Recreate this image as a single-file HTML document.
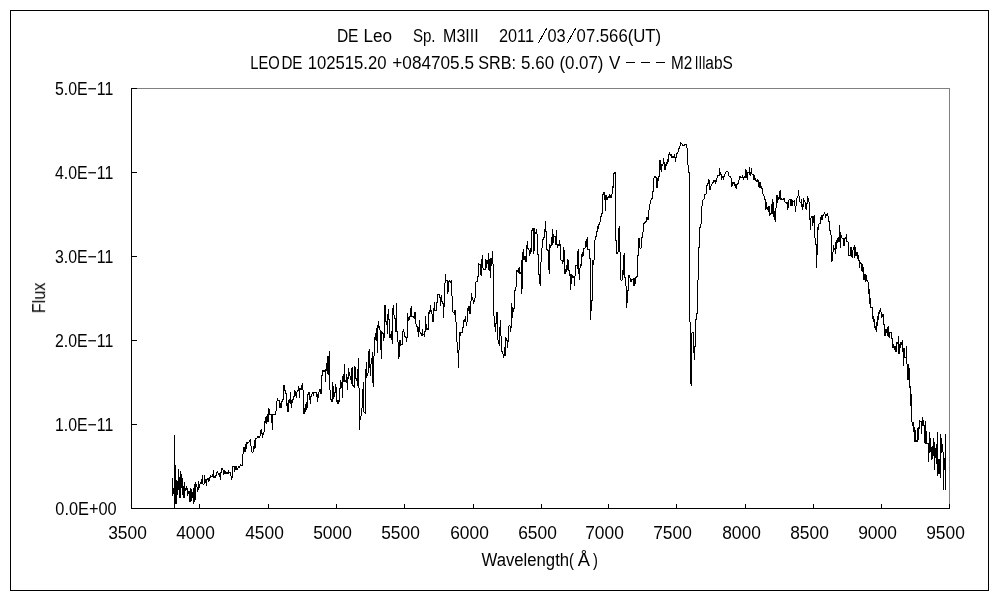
<!DOCTYPE html>
<html><head><meta charset="utf-8"><title>DE Leo spectrum</title>
<style>html,body{margin:0;padding:0;background:#fff;width:1000px;height:600px;overflow:hidden}svg{display:block}</style>
</head><body>
<svg width="1000" height="600" viewBox="0 0 1000 600">
<rect x="0" y="0" width="1000" height="600" fill="#fff"/>
<g shape-rendering="crispEdges" fill="none" stroke-width="1">
<rect x="10.5" y="10.5" width="978" height="580" stroke="#000"/>
<path d="M131.5 88.5H949.5V508.5" stroke="#808080"/>
<path d="M131.5 88V509M131 508.5H950" stroke="#000"/>
<path d="M131 508.5H137M131 424.5H137M131 340.5H137M131 256.5H137M131 172.5H137M131 88.5H137M131.5 509V504M199.5 509V504M268.5 509V504M336.5 509V504M404.5 509V504M473.5 509V504M541.5 509V504M608.5 509V504M676.5 509V504M745.5 509V504M813.5 509V504M881.5 509V504M949.5 509V504" stroke="#000"/>
</g>
<path d="M172 478h1v18h-1zM173 488h1v6h-1zM174 435h1v73h-1zM175 465h1v39h-1zM176 480h1v24h-1zM177 481h1v14h-1zM178 469h1v21h-1zM179 477h1v21h-1zM180 471h1v27h-1zM181 474h1v14h-1zM182 478h1v17h-1zM183 486h1v12h-1zM184 482h1v16h-1zM185 488h1v3h-1zM186 486h1v4h-1zM187 488h1v8h-1zM188 491h1v3h-1zM189 491h1v11h-1zM190 488h1v14h-1zM191 489h1v12h-1zM192 492h1v6h-1zM193 488h1v16h-1zM194 484h1v18h-1zM195 482h1v18h-1zM196 484h1v3h-1zM197 487h1v5h-1zM198 481h1v9h-1zM199 484h1v4h-1zM200 482h1v2h-1zM201 479h1v5h-1zM202 475h1v9h-1zM203 484h1v1h-1zM204 475h1v9h-1zM205 479h1v4h-1zM206 479h1v7h-1zM207 478h1v2h-1zM208 478h1v4h-1zM209 477h1v4h-1zM210 475h1v3h-1zM211 476h1v1h-1zM212 474h1v3h-1zM213 470h1v8h-1zM214 476h1v2h-1zM215 475h1v3h-1zM216 472h1v4h-1zM217 471h1v2h-1zM218 473h1v2h-1zM219 473h1v4h-1zM220 472h1v8h-1zM221 468h1v5h-1zM222 468h1v2h-1zM223 470h1v5h-1zM224 470h1v4h-1zM225 471h1v3h-1zM226 472h1v2h-1zM227 472h1v2h-1zM228 470h1v4h-1zM229 472h1v1h-1zM230 472h1v4h-1zM231 476h1v4h-1zM232 466h1v12h-1zM233 466h1v1h-1zM234 466h1v6h-1zM235 466h1v4h-1zM236 466h1v4h-1zM237 468h1v2h-1zM238 466h1v2h-1zM239 466h1v2h-1zM240 464h1v2h-1zM241 465h1v1h-1zM242 454h1v12h-1zM243 447h1v7h-1zM244 447h1v5h-1zM245 444h1v8h-1zM246 442h1v7h-1zM247 442h1v2h-1zM248 442h1v1h-1zM249 440h1v2h-1zM250 439h1v7h-1zM251 446h1v6h-1zM252 452h1v1h-1zM253 446h1v6h-1zM254 440h1v9h-1zM255 438h1v10h-1zM256 438h1v1h-1zM257 436h1v2h-1zM258 436h1v2h-1zM259 436h1v2h-1zM260 430h1v6h-1zM261 429h1v5h-1zM262 433h1v5h-1zM263 432h1v3h-1zM264 421h1v11h-1zM265 417h1v6h-1zM266 416h1v8h-1zM267 414h1v8h-1zM268 408h1v14h-1zM269 409h1v6h-1zM270 414h1v1h-1zM271 414h1v9h-1zM272 414h1v16h-1zM273 414h1v1h-1zM274 414h1v1h-1zM275 411h1v4h-1zM276 401h1v10h-1zM277 398h1v3h-1zM278 400h1v1h-1zM279 400h1v8h-1zM280 403h1v5h-1zM281 401h1v7h-1zM282 399h1v3h-1zM283 385h1v15h-1zM284 385h1v6h-1zM285 390h1v4h-1zM286 393h1v13h-1zM287 403h1v9h-1zM288 400h1v12h-1zM289 399h1v4h-1zM290 392h1v12h-1zM291 400h1v8h-1zM292 399h1v4h-1zM293 396h1v4h-1zM294 390h1v7h-1zM295 391h1v5h-1zM296 392h1v6h-1zM297 390h1v2h-1zM298 386h1v5h-1zM299 388h1v10h-1zM300 388h1v2h-1zM301 385h1v5h-1zM302 383h1v7h-1zM303 390h1v24h-1zM304 408h1v6h-1zM305 404h1v8h-1zM306 402h1v8h-1zM307 394h1v14h-1zM308 392h1v3h-1zM309 392h1v8h-1zM310 396h1v8h-1zM311 394h1v3h-1zM312 392h1v2h-1zM313 392h1v4h-1zM314 392h1v1h-1zM315 392h1v1h-1zM316 392h1v5h-1zM317 394h1v8h-1zM318 392h1v6h-1zM319 389h1v3h-1zM320 389h1v5h-1zM321 375h1v19h-1zM322 370h1v6h-1zM323 370h1v2h-1zM324 370h1v2h-1zM325 369h1v13h-1zM326 363h1v8h-1zM327 356h1v18h-1zM328 356h1v19h-1zM329 351h1v39h-1zM330 390h1v10h-1zM331 399h1v3h-1zM332 382h1v20h-1zM333 386h1v13h-1zM334 392h1v5h-1zM335 384h1v9h-1zM336 387h1v15h-1zM337 400h1v4h-1zM338 400h1v4h-1zM339 388h1v14h-1zM340 380h1v9h-1zM341 382h1v6h-1zM342 376h1v22h-1zM343 374h1v8h-1zM344 364h1v18h-1zM345 380h1v2h-1zM346 374h1v9h-1zM347 377h1v13h-1zM348 368h1v11h-1zM349 372h1v4h-1zM350 376h1v4h-1zM351 368h1v16h-1zM352 367h1v19h-1zM353 385h1v2h-1zM354 366h1v22h-1zM355 367h1v12h-1zM356 378h1v3h-1zM357 369h1v17h-1zM358 358h1v30h-1zM359 388h1v42h-1zM360 416h1v4h-1zM361 408h1v8h-1zM362 389h1v19h-1zM363 382h1v30h-1zM364 412h1v1h-1zM365 369h1v45h-1zM366 362h1v16h-1zM367 373h1v3h-1zM368 351h1v22h-1zM369 349h1v19h-1zM370 364h1v12h-1zM371 358h1v6h-1zM372 352h1v31h-1zM373 356h1v31h-1zM374 337h1v19h-1zM375 333h1v7h-1zM376 328h1v13h-1zM377 325h1v28h-1zM378 321h1v7h-1zM379 326h1v4h-1zM380 330h1v20h-1zM381 331h1v28h-1zM382 332h1v2h-1zM383 333h1v8h-1zM384 305h1v33h-1zM385 305h1v17h-1zM386 321h1v4h-1zM387 314h1v20h-1zM388 309h1v11h-1zM389 319h1v19h-1zM390 334h1v4h-1zM391 331h1v9h-1zM392 308h1v36h-1zM393 305h1v10h-1zM394 315h1v4h-1zM395 318h1v14h-1zM396 303h1v29h-1zM397 331h1v11h-1zM398 342h1v17h-1zM399 340h1v17h-1zM400 340h1v6h-1zM401 344h1v1h-1zM402 331h1v14h-1zM403 329h1v3h-1zM404 332h1v5h-1zM405 336h1v2h-1zM406 337h1v5h-1zM407 313h1v25h-1zM408 317h1v4h-1zM409 316h1v4h-1zM410 308h1v9h-1zM411 306h1v11h-1zM412 316h1v1h-1zM413 316h1v2h-1zM414 312h1v7h-1zM415 312h1v12h-1zM416 324h1v3h-1zM417 326h1v6h-1zM418 327h1v10h-1zM419 320h1v12h-1zM420 332h1v2h-1zM421 333h1v3h-1zM422 329h1v7h-1zM423 334h1v1h-1zM424 331h1v6h-1zM425 316h1v16h-1zM426 324h1v6h-1zM427 328h1v2h-1zM428 312h1v18h-1zM429 310h1v4h-1zM430 305h1v7h-1zM431 310h1v4h-1zM432 314h1v8h-1zM433 308h1v14h-1zM434 302h1v9h-1zM435 310h1v1h-1zM436 302h1v9h-1zM437 294h1v9h-1zM438 294h1v1h-1zM439 294h1v4h-1zM440 297h1v9h-1zM441 295h1v7h-1zM442 301h1v3h-1zM443 303h1v15h-1zM444 283h1v24h-1zM445 274h1v9h-1zM446 280h1v1h-1zM447 280h1v14h-1zM448 281h1v11h-1zM449 280h1v2h-1zM450 281h1v2h-1zM451 280h1v16h-1zM452 296h1v16h-1zM453 312h1v1h-1zM454 310h1v5h-1zM455 310h1v12h-1zM456 322h1v20h-1zM457 342h1v11h-1zM458 350h1v18h-1zM459 332h1v18h-1zM460 332h1v4h-1zM461 332h1v1h-1zM462 327h1v6h-1zM463 320h1v8h-1zM464 319h1v3h-1zM465 316h1v6h-1zM466 322h1v4h-1zM467 308h1v14h-1zM468 306h1v5h-1zM469 306h1v8h-1zM470 301h1v13h-1zM471 293h1v8h-1zM472 297h1v3h-1zM473 300h1v4h-1zM474 298h1v4h-1zM475 282h1v16h-1zM476 281h1v1h-1zM477 276h1v6h-1zM478 263h1v14h-1zM479 264h1v1h-1zM480 264h1v11h-1zM481 259h1v17h-1zM482 255h1v13h-1zM483 268h1v2h-1zM484 269h1v1h-1zM485 259h1v11h-1zM486 260h1v8h-1zM487 260h1v4h-1zM488 253h1v17h-1zM489 259h1v12h-1zM490 258h1v20h-1zM491 258h1v8h-1zM492 251h1v13h-1zM493 264h1v52h-1zM494 316h1v11h-1zM495 323h1v9h-1zM496 312h1v12h-1zM497 312h1v28h-1zM498 340h1v4h-1zM499 327h1v19h-1zM500 320h1v16h-1zM501 336h1v16h-1zM502 351h1v3h-1zM503 354h1v4h-1zM504 347h1v9h-1zM505 337h1v19h-1zM506 338h1v3h-1zM507 340h1v8h-1zM508 326h1v16h-1zM509 325h1v1h-1zM510 326h1v6h-1zM511 303h1v25h-1zM512 307h1v11h-1zM513 308h1v4h-1zM514 290h1v19h-1zM515 287h1v4h-1zM516 270h1v17h-1zM517 270h1v2h-1zM518 268h1v5h-1zM519 267h1v7h-1zM520 272h1v2h-1zM521 260h1v34h-1zM522 252h1v37h-1zM523 249h1v11h-1zM524 256h1v4h-1zM525 256h1v6h-1zM526 245h1v17h-1zM527 241h1v8h-1zM528 248h1v2h-1zM529 250h1v6h-1zM530 248h1v6h-1zM531 230h1v22h-1zM532 228h1v3h-1zM533 228h1v26h-1zM534 228h1v23h-1zM535 232h1v2h-1zM536 229h1v5h-1zM537 234h1v21h-1zM538 254h1v21h-1zM539 274h1v10h-1zM540 262h1v24h-1zM541 248h1v14h-1zM542 239h1v9h-1zM543 237h1v3h-1zM544 229h1v9h-1zM545 221h1v11h-1zM546 231h1v19h-1zM547 249h1v2h-1zM548 250h1v20h-1zM549 244h1v30h-1zM550 245h1v3h-1zM551 237h1v9h-1zM552 229h1v16h-1zM553 234h1v9h-1zM554 236h1v1h-1zM555 236h1v9h-1zM556 230h1v15h-1zM557 244h1v4h-1zM558 244h1v2h-1zM559 240h1v6h-1zM560 244h1v16h-1zM561 260h1v1h-1zM562 260h1v4h-1zM563 247h1v15h-1zM564 250h1v24h-1zM565 269h1v5h-1zM566 265h1v7h-1zM567 259h1v11h-1zM568 260h1v11h-1zM569 270h1v6h-1zM570 274h1v16h-1zM571 274h1v10h-1zM572 275h1v3h-1zM573 276h1v2h-1zM574 276h1v10h-1zM575 265h1v11h-1zM576 265h1v1h-1zM577 251h1v18h-1zM578 249h1v25h-1zM579 268h1v12h-1zM580 264h1v4h-1zM581 254h1v12h-1zM582 252h1v5h-1zM583 248h1v8h-1zM584 248h1v1h-1zM585 241h1v7h-1zM586 239h1v8h-1zM587 237h1v13h-1zM588 249h1v1h-1zM589 249h1v10h-1zM590 258h1v62h-1zM591 300h1v11h-1zM592 260h1v41h-1zM593 260h1v5h-1zM594 240h1v20h-1zM595 236h1v4h-1zM596 231h1v6h-1zM597 226h1v6h-1zM598 224h1v5h-1zM599 222h1v3h-1zM600 216h1v6h-1zM601 213h1v4h-1zM602 194h1v20h-1zM603 192h1v3h-1zM604 192h1v8h-1zM605 195h1v16h-1zM606 195h1v5h-1zM607 197h1v3h-1zM608 196h1v2h-1zM609 194h1v4h-1zM610 195h1v3h-1zM611 194h1v4h-1zM612 186h1v8h-1zM613 173h1v15h-1zM614 172h1v2h-1zM615 172h1v69h-1zM616 240h1v14h-1zM617 252h1v2h-1zM618 228h1v24h-1zM619 226h1v26h-1zM620 252h1v28h-1zM621 280h1v1h-1zM622 270h1v10h-1zM623 255h1v20h-1zM624 253h1v25h-1zM625 277h1v9h-1zM626 286h1v22h-1zM627 290h1v13h-1zM628 275h1v16h-1zM629 275h1v3h-1zM630 278h1v4h-1zM631 279h1v3h-1zM632 279h1v1h-1zM633 278h1v8h-1zM634 278h1v8h-1zM635 277h1v7h-1zM636 276h1v2h-1zM637 255h1v22h-1zM638 238h1v18h-1zM639 238h1v10h-1zM640 248h1v1h-1zM641 237h1v11h-1zM642 232h1v6h-1zM643 223h1v9h-1zM644 222h1v2h-1zM645 221h1v2h-1zM646 217h1v5h-1zM647 217h1v3h-1zM648 210h1v10h-1zM649 204h1v6h-1zM650 200h1v4h-1zM651 198h1v2h-1zM652 191h1v8h-1zM653 178h1v14h-1zM654 176h1v2h-1zM655 176h1v2h-1zM656 177h1v11h-1zM657 178h1v10h-1zM658 176h1v5h-1zM659 160h1v17h-1zM660 160h1v10h-1zM661 164h1v8h-1zM662 164h1v2h-1zM663 158h1v6h-1zM664 162h1v8h-1zM665 164h1v6h-1zM666 162h1v4h-1zM667 159h1v5h-1zM668 154h1v8h-1zM669 152h1v3h-1zM670 154h1v2h-1zM671 154h1v4h-1zM672 156h1v2h-1zM673 156h1v2h-1zM674 154h1v4h-1zM675 157h1v5h-1zM676 153h1v5h-1zM677 152h1v2h-1zM678 148h1v4h-1zM679 146h1v3h-1zM680 142h1v4h-1zM681 143h1v1h-1zM682 144h1v2h-1zM683 145h1v1h-1zM684 144h1v2h-1zM685 144h1v1h-1zM686 144h1v4h-1zM687 148h1v17h-1zM688 165h1v8h-1zM689 172h1v150h-1zM690 322h1v62h-1zM691 333h1v53h-1zM692 332h1v1h-1zM693 332h1v21h-1zM694 346h1v14h-1zM695 319h1v28h-1zM696 313h1v7h-1zM697 280h1v34h-1zM698 247h1v33h-1zM699 227h1v21h-1zM700 224h1v4h-1zM701 206h1v18h-1zM702 200h1v6h-1zM703 199h1v1h-1zM704 194h1v5h-1zM705 194h1v1h-1zM706 185h1v9h-1zM707 183h1v3h-1zM708 179h1v5h-1zM709 180h1v10h-1zM710 186h1v4h-1zM711 184h1v2h-1zM712 182h1v2h-1zM713 180h1v3h-1zM714 180h1v2h-1zM715 180h1v4h-1zM716 178h1v4h-1zM717 175h1v3h-1zM718 175h1v1h-1zM719 168h1v8h-1zM720 172h1v3h-1zM721 174h1v6h-1zM722 176h1v2h-1zM723 176h1v4h-1zM724 174h1v3h-1zM725 172h1v2h-1zM726 171h1v1h-1zM727 171h1v1h-1zM728 172h1v4h-1zM729 176h1v1h-1zM730 176h1v2h-1zM731 178h1v9h-1zM732 182h1v4h-1zM733 182h1v2h-1zM734 182h1v4h-1zM735 184h1v4h-1zM736 184h1v5h-1zM737 183h1v2h-1zM738 180h1v4h-1zM739 176h1v4h-1zM740 176h1v2h-1zM741 177h1v1h-1zM742 175h1v3h-1zM743 177h1v3h-1zM744 176h1v2h-1zM745 169h1v9h-1zM746 170h1v8h-1zM747 172h1v8h-1zM748 172h1v1h-1zM749 167h1v8h-1zM750 172h1v4h-1zM751 168h1v6h-1zM752 174h1v1h-1zM753 174h1v6h-1zM754 175h1v5h-1zM755 178h1v3h-1zM756 180h1v2h-1zM757 179h1v3h-1zM758 180h1v7h-1zM759 182h1v6h-1zM760 182h1v6h-1zM761 186h1v3h-1zM762 188h1v6h-1zM763 194h1v2h-1zM764 196h1v4h-1zM765 199h1v11h-1zM766 202h1v7h-1zM767 207h1v3h-1zM768 206h1v6h-1zM769 206h1v10h-1zM770 213h1v2h-1zM771 204h1v10h-1zM772 199h1v15h-1zM773 202h1v15h-1zM774 211h1v9h-1zM775 208h1v14h-1zM776 195h1v13h-1zM777 195h1v8h-1zM778 197h1v3h-1zM779 191h1v8h-1zM780 190h1v10h-1zM781 198h1v2h-1zM782 199h1v1h-1zM783 198h1v2h-1zM784 198h1v4h-1zM785 202h1v1h-1zM786 202h1v2h-1zM787 202h1v8h-1zM788 200h1v8h-1zM789 199h1v1h-1zM790 199h1v7h-1zM791 199h1v7h-1zM792 200h1v6h-1zM793 201h1v1h-1zM794 200h1v6h-1zM795 206h1v6h-1zM796 198h1v8h-1zM797 196h1v2h-1zM798 190h1v6h-1zM799 196h1v6h-1zM800 202h1v1h-1zM801 199h1v8h-1zM802 204h1v6h-1zM803 198h1v9h-1zM804 200h1v2h-1zM805 202h1v7h-1zM806 203h1v7h-1zM807 196h1v8h-1zM808 198h1v4h-1zM809 202h1v18h-1zM810 218h1v12h-1zM811 216h1v2h-1zM812 216h1v10h-1zM813 216h1v7h-1zM814 215h1v23h-1zM815 238h1v7h-1zM816 244h1v24h-1zM817 227h1v28h-1zM818 224h1v6h-1zM819 223h1v1h-1zM820 217h1v7h-1zM821 215h1v5h-1zM822 215h1v5h-1zM823 214h1v2h-1zM824 212h1v2h-1zM825 214h1v4h-1zM826 214h1v2h-1zM827 213h1v3h-1zM828 216h1v6h-1zM829 221h1v10h-1zM830 230h1v5h-1zM831 235h1v27h-1zM832 252h1v9h-1zM833 245h1v7h-1zM834 248h1v2h-1zM835 242h1v12h-1zM836 240h1v9h-1zM837 238h1v5h-1zM838 237h1v5h-1zM839 225h1v17h-1zM840 232h1v16h-1zM841 235h1v3h-1zM842 238h1v1h-1zM843 238h1v8h-1zM844 238h1v8h-1zM845 237h1v2h-1zM846 234h1v8h-1zM847 241h1v1h-1zM848 242h1v14h-1zM849 255h1v1h-1zM850 247h1v9h-1zM851 247h1v10h-1zM852 250h1v8h-1zM853 247h1v3h-1zM854 245h1v13h-1zM855 247h1v9h-1zM856 252h1v4h-1zM857 252h1v7h-1zM858 255h1v6h-1zM859 260h1v8h-1zM860 262h1v2h-1zM861 263h1v8h-1zM862 264h1v8h-1zM863 267h1v13h-1zM864 274h1v6h-1zM865 274h1v8h-1zM866 275h1v6h-1zM867 280h1v2h-1zM868 282h1v12h-1zM869 289h1v15h-1zM870 298h1v10h-1zM871 307h1v1h-1zM872 307h1v12h-1zM873 316h1v6h-1zM874 319h1v9h-1zM875 326h1v4h-1zM876 322h1v10h-1zM877 316h1v10h-1zM878 312h1v8h-1zM879 310h1v4h-1zM880 308h1v4h-1zM881 312h1v6h-1zM882 314h1v3h-1zM883 314h1v11h-1zM884 324h1v12h-1zM885 329h1v7h-1zM886 329h1v4h-1zM887 327h1v9h-1zM888 326h1v11h-1zM889 332h1v6h-1zM890 332h1v1h-1zM891 332h1v7h-1zM892 338h1v10h-1zM893 344h1v4h-1zM894 346h1v4h-1zM895 346h1v6h-1zM896 342h1v10h-1zM897 342h1v2h-1zM898 336h1v18h-1zM899 344h1v10h-1zM900 342h1v6h-1zM901 342h1v3h-1zM902 340h1v12h-1zM903 348h1v18h-1zM904 348h1v10h-1zM905 357h1v1h-1zM906 346h1v18h-1zM907 364h1v16h-1zM908 364h1v16h-1zM909 368h1v20h-1zM910 386h1v20h-1zM911 394h1v28h-1zM912 422h1v4h-1zM913 422h1v10h-1zM914 427h1v15h-1zM915 430h1v12h-1zM916 440h1v2h-1zM917 428h1v14h-1zM918 427h1v13h-1zM919 420h1v9h-1zM920 421h1v1h-1zM921 421h1v13h-1zM922 417h1v9h-1zM923 420h1v6h-1zM924 425h1v18h-1zM925 421h1v23h-1zM926 431h1v13h-1zM927 443h1v1h-1zM928 443h1v19h-1zM929 432h1v21h-1zM930 438h1v14h-1zM931 447h1v13h-1zM932 446h1v13h-1zM933 438h1v18h-1zM934 442h1v28h-1zM935 448h1v10h-1zM936 444h1v20h-1zM937 432h1v44h-1zM938 459h1v15h-1zM939 459h1v15h-1zM940 434h1v44h-1zM941 438h1v15h-1zM942 444h1v8h-1zM943 452h1v38h-1zM944 458h1v12h-1zM945 434h1v56h-1z" fill="#000" stroke="none" shape-rendering="crispEdges"/>
<path d="M626 62h9v1h-9zM641 62h9v1h-9zM656 62h9v1h-9z" fill="#000" shape-rendering="crispEdges"/>
<path d="M538.5 43L546.5 28.5M567.5 43L575.5 28.5" stroke="#000" stroke-width="1" fill="none" shape-rendering="crispEdges"/>
<g style="opacity:0.999" font-family="'Liberation Sans', sans-serif" font-size="18.15" fill="#000">
<text x="336.90000000000003" y="42" textLength="21.6" lengthAdjust="spacingAndGlyphs">DE</text>
<text x="363.40000000000003" y="42" textLength="28.6" lengthAdjust="spacingAndGlyphs">Leo</text>
<text x="412.90000000000003" y="42" textLength="22.6" lengthAdjust="spacingAndGlyphs">Sp.</text>
<text x="443.1" y="42" textLength="35.6" lengthAdjust="spacingAndGlyphs">M3III</text>
<text x="499.0" y="42" textLength="35.0" lengthAdjust="spacingAndGlyphs">2011</text>
<text x="547.5" y="42" textLength="18.2" lengthAdjust="spacingAndGlyphs">03</text>
<text x="576.5999999999999" y="42" textLength="51.1" lengthAdjust="spacingAndGlyphs">07.566</text>
<text x="627.6999999999999" y="42" textLength="33.5" lengthAdjust="spacingAndGlyphs">(UT)</text>
<text x="250.3" y="69" textLength="29.5" lengthAdjust="spacingAndGlyphs">LEO</text>
<text x="281.40000000000003" y="69" textLength="21.1" lengthAdjust="spacingAndGlyphs">DE</text>
<text x="307.7" y="69" textLength="78.8" lengthAdjust="spacingAndGlyphs">102515.20</text>
<text x="392.3" y="69" textLength="81.7" lengthAdjust="spacingAndGlyphs">+084705.5</text>
<text x="478.3" y="69" textLength="37.7" lengthAdjust="spacingAndGlyphs">SRB:</text>
<text x="521.0999999999999" y="69" textLength="33.0" lengthAdjust="spacingAndGlyphs">5.60</text>
<text x="559.4" y="69" textLength="44.1" lengthAdjust="spacingAndGlyphs">(0.07)</text>
<text x="608.9" y="69" textLength="11.4" lengthAdjust="spacingAndGlyphs">V</text>
<text x="670.9" y="69" textLength="21.3" lengthAdjust="spacingAndGlyphs">M2</text>
<text x="694.6999999999999" y="69" textLength="11.1" lengthAdjust="spacingAndGlyphs">III</text>
<text x="705.3" y="69" textLength="27.5" lengthAdjust="spacingAndGlyphs">abS</text>
<text x="54.9" y="431" textLength="58.4" lengthAdjust="spacingAndGlyphs">1.0E&#8722;11</text>
<text x="54.9" y="347" textLength="58.4" lengthAdjust="spacingAndGlyphs">2.0E&#8722;11</text>
<text x="54.9" y="263" textLength="58.4" lengthAdjust="spacingAndGlyphs">3.0E&#8722;11</text>
<text x="54.9" y="179" textLength="58.4" lengthAdjust="spacingAndGlyphs">4.0E&#8722;11</text>
<text x="54.9" y="95" textLength="58.4" lengthAdjust="spacingAndGlyphs">5.0E&#8722;11</text>
<text x="55.3" y="515" textLength="61.4" lengthAdjust="spacingAndGlyphs">0.0E+00</text>
<text x="108.2" y="539" textLength="38.6" lengthAdjust="spacingAndGlyphs">3500</text>
<text x="176.20000000000002" y="539" textLength="38.6" lengthAdjust="spacingAndGlyphs">4000</text>
<text x="245.20000000000002" y="539" textLength="38.6" lengthAdjust="spacingAndGlyphs">4500</text>
<text x="313.2" y="539" textLength="38.6" lengthAdjust="spacingAndGlyphs">5000</text>
<text x="381.2" y="539" textLength="38.6" lengthAdjust="spacingAndGlyphs">5500</text>
<text x="450.2" y="539" textLength="38.6" lengthAdjust="spacingAndGlyphs">6000</text>
<text x="518.1999999999999" y="539" textLength="38.6" lengthAdjust="spacingAndGlyphs">6500</text>
<text x="585.1999999999999" y="539" textLength="38.6" lengthAdjust="spacingAndGlyphs">7000</text>
<text x="653.1999999999999" y="539" textLength="38.6" lengthAdjust="spacingAndGlyphs">7500</text>
<text x="722.1999999999999" y="539" textLength="38.6" lengthAdjust="spacingAndGlyphs">8000</text>
<text x="790.1999999999999" y="539" textLength="38.6" lengthAdjust="spacingAndGlyphs">8500</text>
<text x="858.1999999999999" y="539" textLength="38.6" lengthAdjust="spacingAndGlyphs">9000</text>
<text x="926.1999999999999" y="539" textLength="38.6" lengthAdjust="spacingAndGlyphs">9500</text>
<text x="481.5" y="566" textLength="87.6" lengthAdjust="spacingAndGlyphs">Wavelength</text>
<text x="569.0" y="566" textLength="4.9" lengthAdjust="spacingAndGlyphs">(</text>
<text x="577.6999999999999" y="566" textLength="12.2" lengthAdjust="spacingAndGlyphs">&#197;</text>
<text x="593.0999999999999" y="566" textLength="4.9" lengthAdjust="spacingAndGlyphs">)</text>
<text transform="translate(45.1 313.2) rotate(-90)" textLength="30.5" lengthAdjust="spacingAndGlyphs">Flux</text>
</g>
</svg>
</body></html>
